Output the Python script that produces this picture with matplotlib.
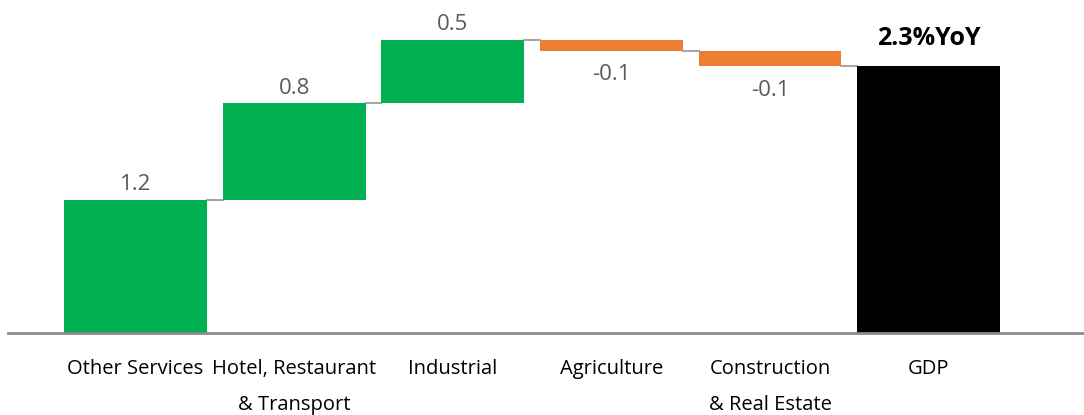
import numpy as np
import matplotlib

matplotlib.use("Agg")
import matplotlib.pyplot as plt

CATEGORIES = ["Other Services", "Hotel, Restaurant\n& Transport", "Industrial",
              "Agriculture", "Construction\n& Real Estate", "GDP"]
CONTRIB = [1.15, 0.83, 0.55, -0.095, -0.13]
GDP = 2.3
LABELS = ["1.2", "0.8", "0.5", "-0.1", "-0.1", "2.3%YoY"]

GREEN, ORANGE, GREY, TXT = "#00B050", "#ED7D31", "#A6A6A6", "#595959"
plt.rcParams["font.family"] = ["Open Sans", "DejaVu Sans"]

fig = plt.figure(figsize=(10.84, 4.15), dpi=100)
ax = fig.add_axes([8 / 1084, 1 - 333 / 415, 1 - 8 / 1084, 333 / 415])

x = np.arange(len(CATEGORIES))
w = 0.9
cum = np.concatenate([[0], np.cumsum(CONTRIB)])
bottoms = list(np.minimum(cum[:-1], cum[1:])) + [0]
heights = list(np.abs(CONTRIB)) + [GDP]
colors = [GREEN if v > 0 else ORANGE for v in CONTRIB] + ["black"]
ax.bar(x, heights, w, bottom=bottoms, color=colors, zorder=2)

# connectors
for i in range(len(CONTRIB)):
    lvl = cum[i + 1]
    ax.plot([x[i] + w / 2, x[i + 1] - w / 2], [lvl, lvl], color=GREY, lw=1.5, zorder=1)

# value labels
for i, v in enumerate(CONTRIB):
    if v > 0:
        ax.annotate(LABELS[i], (x[i], cum[i + 1]), xytext=(0, 3), textcoords="offset points",
                    ha="center", va="bottom", fontsize=16, color=TXT)
    else:
        ax.annotate(LABELS[i], (x[i], cum[i + 1]), xytext=(0, -10), textcoords="offset points",
                    ha="center", va="top", fontsize=16, color=TXT)
ax.annotate(LABELS[-1], (x[-1], GDP), xytext=(0, 11), textcoords="offset points",
            ha="center", va="bottom", fontsize=18, color="black", fontweight="bold")

ax.set_xlim(-0.804, 5.98)
ax.set_ylim(0, 333 / 116)
for s in ["top", "right", "left"]:
    ax.spines[s].set_visible(False)
ax.spines["bottom"].set_color("#8C8C8C")
ax.spines["bottom"].set_linewidth(2)
ax.set_yticks([])
ax.set_xticks(x)
ax.set_xticklabels(CATEGORIES, fontsize=14.5, linespacing=2.05, va="top", color="black")
ax.tick_params(axis="x", length=0, pad=19)

fig.savefig("out.png", dpi=100)
